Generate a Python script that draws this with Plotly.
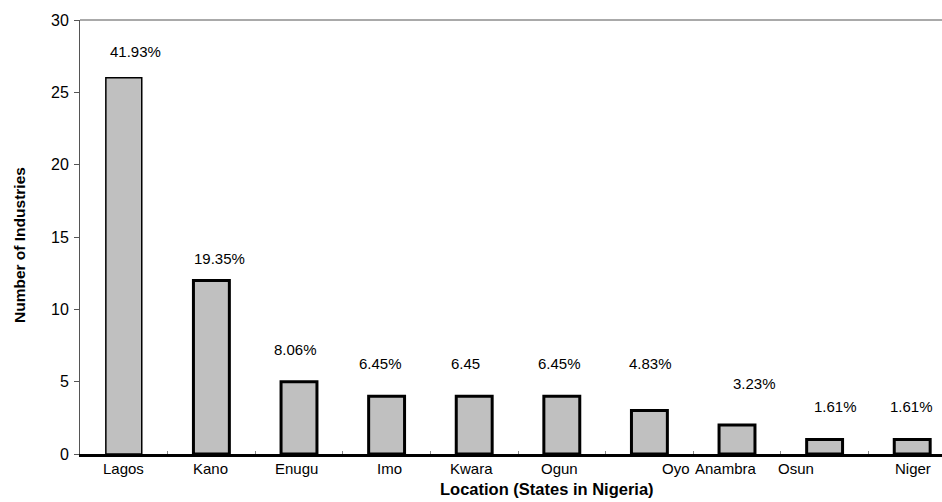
import plotly.graph_objects as go

states = ["Lagos", "Kano", "Enugu", "Imo", "Kwara", "Ogun", "Oyo", "Anambra", "Osun", "Niger"]
industries = [26, 12, 5, 4, 4, 4, 3, 2, 1, 1]
pct_labels = ["41.93%", "19.35%", "8.06%", "6.45%", "6.45", "6.45%", "4.83%", "3.23%", "1.61%", "1.61%"]
y_ticks = [0, 5, 10, 15, 20, 25, 30]

# styling offsets (pixels) for the labels, mimicking the original layout
pct_xshift = [12, 8, -4, -6, -9, -2, 1, 17, 11, -1]
pct_yshift = [16, 11, 22, 22, 22, 22, 37, 31, 23, 23]
cat_xshift = [0, -1, -3, 3, -3, -2, 27, -11, -29, 1]
outline_w = [1.5, 3, 3, 3, 3, 3, 3, 3, 3, 3]

FONT = "Liberation Sans, Arial, sans-serif"
L, R, T, B = 80, 0, 20, 48
W, H = 942, 502
PW, PH = W - L - R, H - T - B

fig = go.Figure()
fig.add_trace(go.Bar(
    x=states, y=industries, width=0.41,
    marker=dict(color="#c0c0c0", line=dict(color="black", width=outline_w)),
    hoverinfo="skip",
))

for s, v, t, dx, dy in zip(states, industries, pct_labels, pct_xshift, pct_yshift):
    fig.add_annotation(x=s, y=v, text=t, showarrow=False, xref="x", yref="y",
                       yanchor="bottom", xshift=dx, yshift=dy,
                       font=dict(family=FONT, size=15, color="black"))

for s, dx in zip(states, cat_xshift):
    fig.add_annotation(x=s, y=0, text=s, showarrow=False, xref="x", yref="paper",
                       yanchor="top", xshift=dx, yshift=-4,
                       font=dict(family=FONT, size=15, color="black"))

# axis titles
fig.add_annotation(text="<b>Location (States in Nigeria)</b>", showarrow=False,
                   x=(547 - L) / PW, xref="paper", y=-(489 - (H - B)) / PH, yref="paper",
                   yanchor="middle", xanchor="center",
                   font=dict(family=FONT, size=16.5, color="black"))
fig.add_annotation(text="<b>Number of Industries</b>", showarrow=False, textangle=-90,
                   x=(19 - L) / PW, xref="paper", y=1 - (245 - T) / PH, yref="paper",
                   xanchor="center", yanchor="middle",
                   font=dict(family=FONT, size=15.5, color="black"))

# top frame line
fig.add_shape(type="line", xref="paper", yref="paper", x0=0, x1=1, y0=1, y1=1,
              line=dict(color="#555555", width=1))

fig.update_layout(
    width=W, height=H,
    margin=dict(l=L, r=R, t=T, b=B, autoexpand=False),
    paper_bgcolor="white", plot_bgcolor="white",
    showlegend=False,
    font=dict(family=FONT, size=15, color="black"),
    xaxis=dict(
        type="category", range=[-0.5, 9.34], showticklabels=False, automargin=False,
        tickson="boundaries", ticks="inside", ticklen=3, tickcolor="#888888", tickwidth=1,
        showline=True, linecolor="black", linewidth=3, showgrid=False, zeroline=False,
    ),
    yaxis=dict(
        range=[0, 30], tickvals=y_ticks, ticks="outside", ticklen=5, tickcolor="#555555",
        showline=True, linecolor="#555555", linewidth=1, showgrid=False, zeroline=False,
        tickfont=dict(family=FONT, size=16), ticklabelstandoff=2, automargin=False,
    ),
)

fig.write_html("out.html", config={"displayModeBar": False},
               post_script="document.body.style.margin='0';document.body.style.overflow='hidden';")
